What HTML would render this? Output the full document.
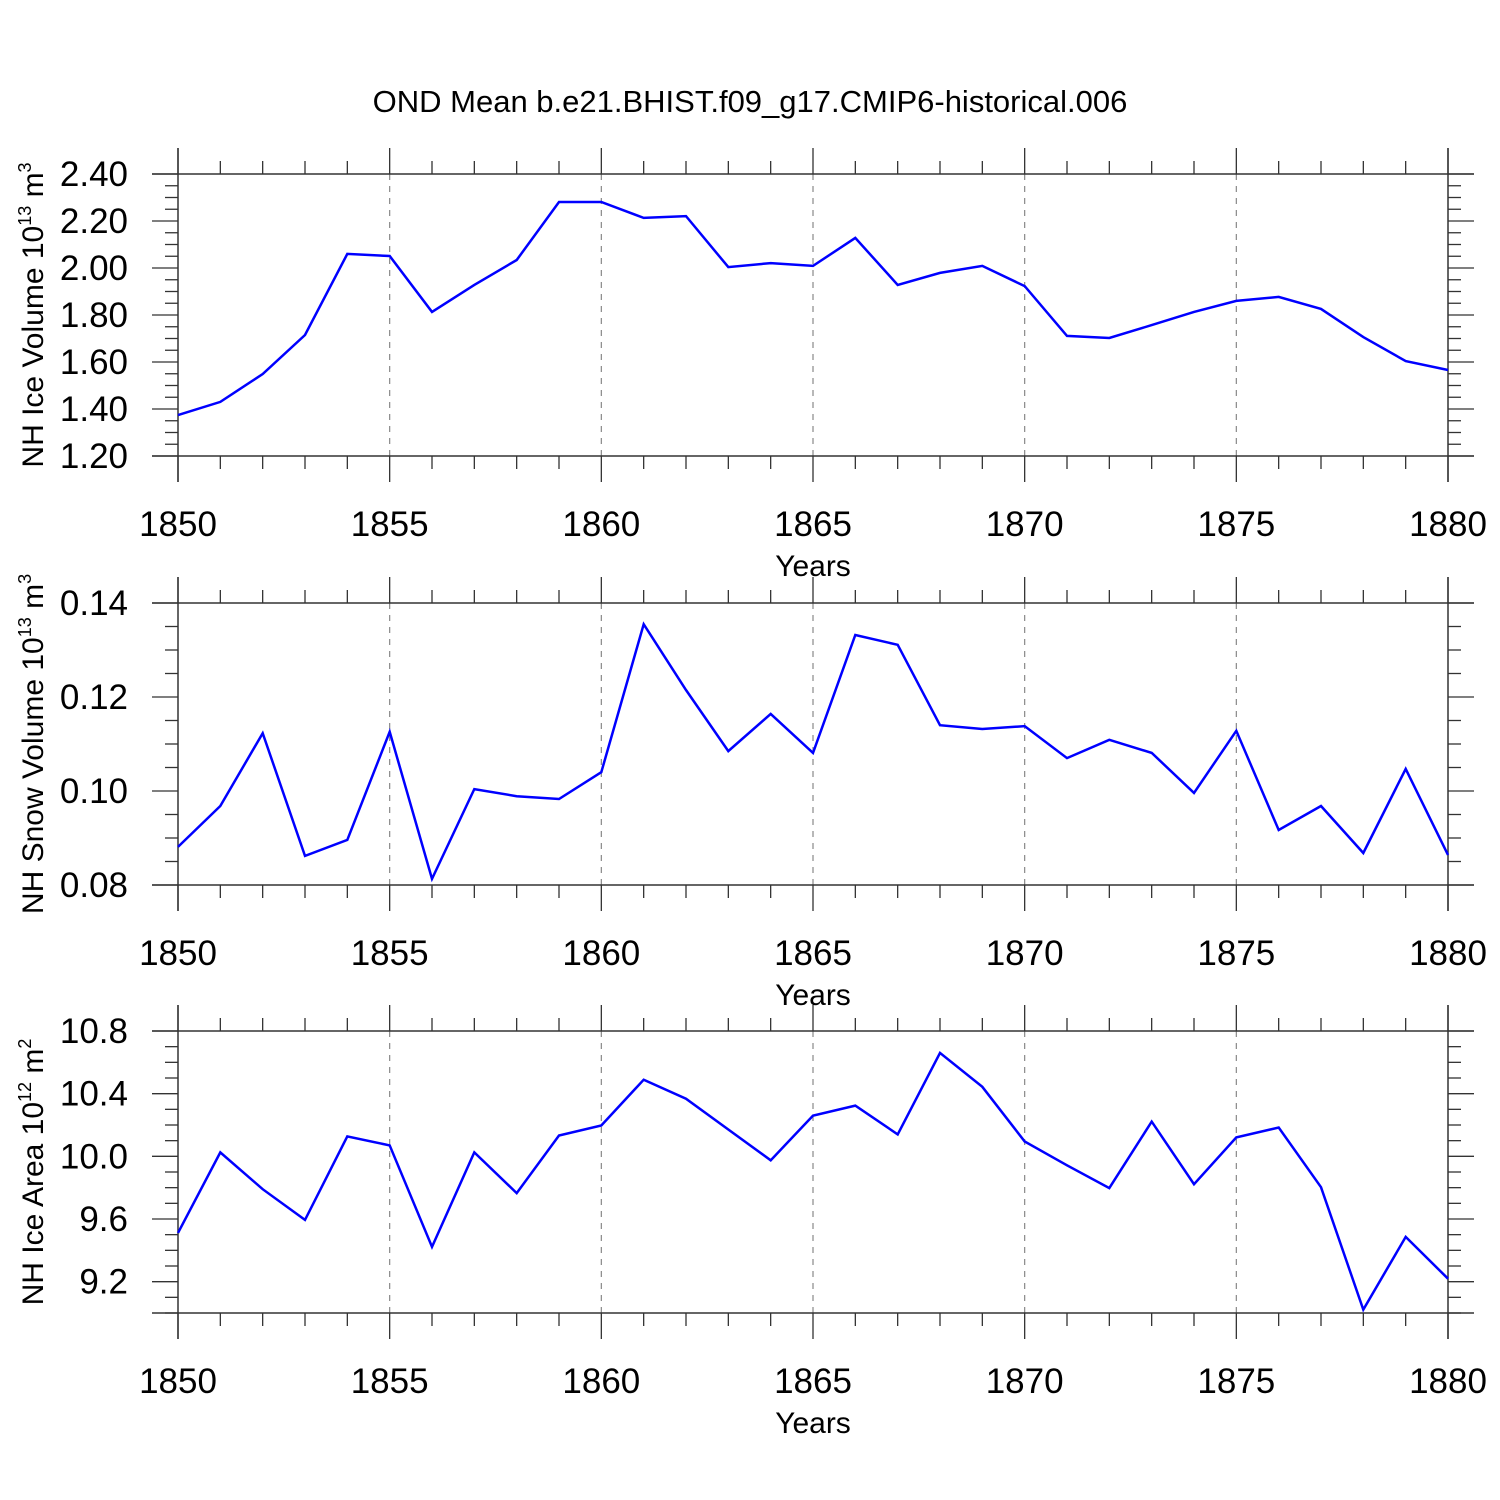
<!DOCTYPE html>
<html><head><meta charset="utf-8"><style>
html,body{margin:0;padding:0;background:#fff}
svg{display:block;font-family:"Liberation Sans",Arial,sans-serif}
</style></head><body>
<svg id="chart" width="1500" height="1500" viewBox="0 0 1500 1500" xmlns="http://www.w3.org/2000/svg">
<text x="750" y="112" font-size="31" text-anchor="middle">OND Mean b.e21.BHIST.f09_g17.CMIP6-historical.006</text>
</svg>
<script>
const years=[1850,1851,1852,1853,1854,1855,1856,1857,1858,1859,1860,1861,1862,1863,1864,1865,1866,1867,1868,1869,1870,1871,1872,1873,1874,1875,1876,1877,1878,1879,1880];
const iceVolume=[1.374,1.430,1.549,1.715,2.060,2.051,1.813,1.928,2.034,2.281,2.281,2.213,2.221,2.004,2.021,2.009,2.128,1.928,1.979,2.009,1.923,1.711,1.702,1.757,1.813,1.860,1.877,1.826,1.706,1.604,1.566];
const snowVolume=[0.0881,0.0968,0.1123,0.0862,0.0896,0.1126,0.0813,0.1004,0.0989,0.0983,0.1040,0.1355,0.1215,0.1085,0.1164,0.1081,0.1332,0.1311,0.1140,0.1132,0.1138,0.1070,0.1109,0.1081,0.0996,0.1128,0.0917,0.0968,0.0868,0.1047,0.0864];
const iceArea=[9.511,10.025,9.790,9.594,10.127,10.070,9.422,10.025,9.765,10.133,10.197,10.489,10.368,10.171,9.975,10.260,10.324,10.140,10.660,10.444,10.095,9.943,9.797,10.222,9.822,10.121,10.184,9.803,9.022,9.486,9.219];
const xTicks=[1850,1855,1860,1865,1870,1875,1880];
const iceVolTicks=["1.20","1.40","1.60","1.80","2.00","2.20","2.40"];
const snowTicks=["0.08","0.10","0.12","0.14"];
const areaTicks=["9.2","9.6","10.0","10.4","10.8"];

const NS="http://www.w3.org/2000/svg";
const svg=document.getElementById('chart');
const X0=178,X1=1448;
function xs(v){return X0+(v-1850)/(1880-1850)*(X1-X0);}
function mk(tag,attrs,parent){const e=document.createElementNS(NS,tag);for(const k in attrs)e.setAttribute(k,attrs[k]);(parent||svg).appendChild(e);return e;}

function panel(id,top,bottom,ymin,ymax,yTicks,minorStep,data,label,sup1,sup2){
  const g=mk('g',{});
  
  
  const ys=v=>bottom-(v-ymin)/(ymax-ymin)*(bottom-top);
  const c='#333';
  xTicks.slice(1,-1).forEach(t=>{
    const l=mk('line',{x1:xs(t),x2:xs(t),y1:top,y2:bottom,stroke:'#888','stroke-width':1.2,'stroke-dasharray':'6,6'},g);
    
    
  });
  mk('line',{x1:152,x2:1474,y1:top,y2:top,stroke:c,'stroke-width':1.5},g);
  mk('line',{x1:152,x2:1474,y1:bottom,y2:bottom,stroke:c,'stroke-width':1.5},g);
  mk('line',{x1:X0,x2:X0,y1:top-26,y2:bottom+26,stroke:c,'stroke-width':1.5},g);
  mk('line',{x1:X1,x2:X1,y1:top-26,y2:bottom+26,stroke:c,'stroke-width':1.5},g);
  for(let y=1850;y<=1880;y++){
    const maj=(y%5===0),len=maj?26:13,x=xs(y);
    mk('line',{x1:x,x2:x,y1:top,y2:top-len,stroke:c,'stroke-width':1.3},g);
    mk('line',{x1:x,x2:x,y1:bottom,y2:bottom+len,stroke:c,'stroke-width':1.3},g);
  }
  xTicks.forEach(t=>{
    const tx=mk('text',{x:xs(t),y:bottom+80,'font-size':35,'text-anchor':'middle'},g);
    tx.textContent=t;
    
    
  });
  const xt=mk('text',{x:813,y:bottom+120,'font-size':30,'text-anchor':'middle'},g);
  xt.textContent='Years';
  
  
  const n=Math.round((ymax-ymin)/minorStep);
  for(let i=0;i<=n;i++){
    const v=ymin+i*minorStep,y=ys(v);
    const maj=yTicks.some(t=>Math.abs(parseFloat(t)-v)<minorStep/10);
    const len=maj?26:13;
    mk('line',{x1:X0,x2:X0-len,y1:y,y2:y,stroke:c,'stroke-width':1.3},g);
    mk('line',{x1:X1,x2:X1+len,y1:y,y2:y,stroke:c,'stroke-width':1.3},g);
  }
  yTicks.forEach(t=>{
    const tx=mk('text',{x:128,y:ys(parseFloat(t))+12,'font-size':35,'text-anchor':'end'},g);
    tx.textContent=t;
    
    
  });
  const cy=(top+bottom)/2;
  const yt=mk('text',{x:0,y:0,'font-size':30,'text-anchor':'middle',transform:`translate(43,${cy}) rotate(-90)`},g);
  
  
  yt.appendChild(document.createTextNode(label+' 10'));
  const s1=mk('tspan',{'font-size':18,dy:-12},yt);s1.textContent=sup1;
  const s2=mk('tspan',{dy:12},yt);s2.textContent=' m';
  const s3=mk('tspan',{'font-size':18,dy:-12},yt);s3.textContent=sup2;
  const pts=data.map((v,i)=>xs(years[i]).toFixed(1)+','+ys(v).toFixed(1)).join(' ');
  const pl=mk('polyline',{points:pts,fill:'none',stroke:'#0000ff','stroke-width':2.5,'stroke-linejoin':'miter'},g);
  
  
}
panel('ice-volume',174,456,1.20,2.40,iceVolTicks,0.05,iceVolume,'NH Ice Volume','13','3');
panel('snow-volume',603,885,0.08,0.14,snowTicks,0.005,snowVolume,'NH Snow Volume','13','3');
panel('ice-area',1031,1313,9.0,10.8,areaTicks,0.1,iceArea,'NH Ice Area','12','2');
</script>
</body></html>
